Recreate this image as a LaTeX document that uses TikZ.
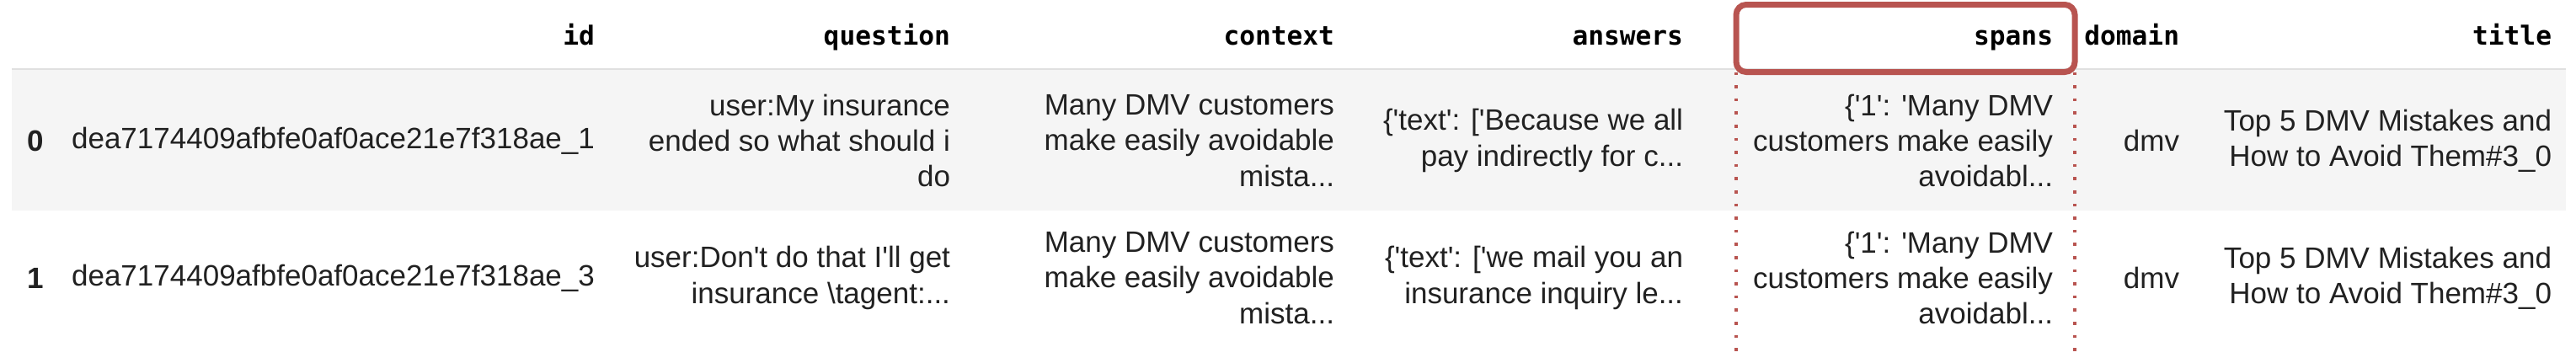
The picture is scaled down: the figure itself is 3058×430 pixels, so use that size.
\documentclass[tikz,border=0pt]{standalone}
\usepackage{fontspec}
\setmainfont{Liberation Sans}[Ligatures=TeXOff]
\newfontfamily\headfont{DejaVu Sans Mono}
\definecolor{spanred}{RGB}{184,84,80}
\definecolor{rowgray}{RGB}{245,245,245}
\definecolor{rulegray}{RGB}{224,224,224}
\definecolor{celltext}{RGB}{33,33,33}

\begin{document}
\begin{tikzpicture}[x=0.25pt, y=-0.25pt,
    every node/.append style={inner sep=0pt, outer sep=0pt},
    head/.style={anchor=base east, font=\headfont\bfseries\fontsize{7.8pt}{9pt}\selectfont},
    cell/.style={anchor=east, align=right, text=celltext, font=\fontsize{8.75pt}{10.6pt}\selectfont},
    idx/.style={anchor=west, text=celltext, font=\bfseries\fontsize{8.75pt}{10.6pt}\selectfont},
    spandots/.style={spanred, line width=0.9pt, dash pattern=on 0.9pt off 3pt}]
        \useasboundingbox (0,0) rectangle (3058,430);
        \fill [rowgray] (14,83) rectangle (3046,250);
        \draw [rulegray, line width=0.5pt] (14,82) -- (3046,82);

        % header
        \node [head] (Hid) at (706,53) {id};
        \node [head] (Hquestion) at (1128,53) {question};
        \node [head] (Hcontext) at (1584,53) {context};
        \node [head] (Hanswers) at (1998,53) {answers};
        \node [head] (Hspans) at (2437,53) {spans};
        \node [head] (Hdomain) at (2587,53) {domain};
        \node [head] (Htitle) at (3029,53) {title};

        % row 0
        \node [idx] (I0) at (33,167) {0};
        \node [cell] (A0) at (706,167) {dea7174409afbfe0af0ace21e7f318ae\_1};
        \node [cell] (Q0) at (1128,167) {user:My insurance\\ended so what should i\\do};
        \node [cell] (C0) at (1584,167) {Many DMV customers\\make easily avoidable\\mista...};
        \node [cell] (N0) at (1998,167) {\{'text': ['Because we all\\pay indirectly for c...};
        \node [cell] (S0) at (2437,167) {\{'1': 'Many DMV\\customers make easily\\avoidabl...};
        \node [cell] (D0) at (2587,167) {dmv};
        \node [cell] (T0) at (3029,167) {Top 5 DMV Mistakes and\\How to Avoid Them\#3\_0};

        % row 1
        \node [idx] (I1) at (33,330) {1};
        \node [cell] (A1) at (706,330) {dea7174409afbfe0af0ace21e7f318ae\_3};
        \node [cell] (Q1) at (1128,330) {user:Don't do that I'll get\\insurance \textbackslash tagent:...};
        \node [cell] (C1) at (1584,330) {Many DMV customers\\make easily avoidable\\mista...};
        \node [cell] (N1) at (1998,330) {\{'text': ['we mail you an\\insurance inquiry le...};
        \node [cell] (S1) at (2437,330) {\{'1': 'Many DMV\\customers make easily\\avoidabl...};
        \node [cell] (D1) at (2587,330) {dmv};
        \node [cell] (T1) at (3029,330) {Top 5 DMV Mistakes and\\How to Avoid Them\#3\_0};

        % highlighted column
        \node [draw=spanred, line width=1.75pt, rounded corners=3pt, minimum width=100.5pt, minimum height=20pt] (box) at (2262,45.5) {};
        \coordinate (boxL) at (2061,423);
        \coordinate (boxR) at (2463,423);
        \draw [spandots] (box.south west) -- (boxL);
        \draw [spandots] (box.south east) -- (boxR);
    \end{tikzpicture}
\end{document}
